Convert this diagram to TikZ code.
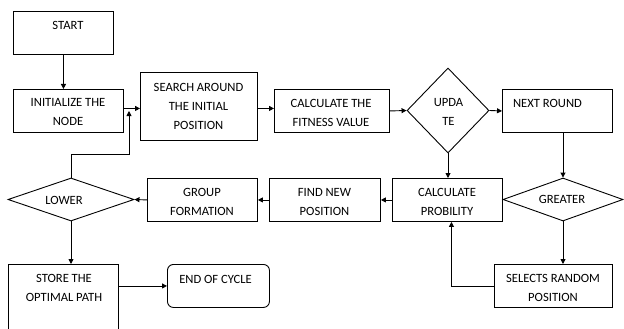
\documentclass[tikz,border=0pt]{standalone}
\usepackage{fontspec}
\setmainfont{Carlito}
\usetikzlibrary{shapes.geometric,arrows.meta}
\begin{document}
\begin{tikzpicture}[x=1pt,y=-1pt,
  box/.style={draw,line width=0.9pt,inner sep=0pt,anchor=north west},
  dia/.style={draw,line width=0.9pt,diamond,inner sep=0pt},
  txt/.style={font=\fontsize{12.6}{19}\selectfont,align=center,inner sep=0pt},
  arr/.style={line width=0.9pt,-{Triangle[length=5pt,width=5pt]}},
  ln/.style={line width=0.9pt}]
\clip (0,0) rectangle (624,329);
\fill[white] (0,0) rectangle (624,329);

% process boxes
\node[box,minimum width=100pt,minimum height=43pt] (start) at (13,11) {};
\node[box,minimum width=110pt,minimum height=43pt] (init) at (13,89) {};
\node[box,minimum width=117pt,minimum height=68pt] (search) at (140,72) {};
\node[box,minimum width=115pt,minimum height=43pt] (fit) at (274,89) {};
\node[box,minimum width=110pt,minimum height=43pt] (next) at (502,89) {};
\node[box,minimum width=110pt,minimum height=43pt] (cprob) at (392,178) {};
\node[box,minimum width=111pt,minimum height=43pt] (find) at (269,178) {};
\node[box,minimum width=110pt,minimum height=43pt] (group) at (147,178) {};
\node[box,minimum width=110pt,minimum height=80pt] (store) at (8,264) {};
\node[box,rounded corners=6pt,minimum width=102pt,minimum height=43pt] (end) at (167,264) {};
\node[box,minimum width=118pt,minimum height=43pt] (selects) at (494,264) {};

% decisions
\node[dia,minimum width=82pt,minimum height=85pt] (update) at (448,110.5) {};
\node[dia,minimum width=120pt,minimum height=43pt] (greater) at (563,199.5) {};
\node[dia,minimum width=126pt,minimum height=43pt] (lower) at (71,199.5) {};

% labels
\node[txt] (tStart) at (68,25) {START};
\node[txt] (tInit) at (68,112.5) {INITIALIZE THE\\NODE};
\node[txt] (tSearch) at (198.5,106) {SEARCH AROUND\\THE INITIAL\\POSITION};
\node[txt] (tFit) at (331,112.5) {CALCULATE THE\\FITNESS VALUE};
\node[txt] (tUpdate) at (448.5,111.5) {UPDA\\TE};
\node[txt] (tNext) at (547.5,103) {NEXT ROUND};
\node[txt] (tCprob) at (447,201.5) {CALCULATE\\PROBILITY};
\node[txt] (tFind) at (324.5,201.5) {FIND NEW\\POSITION};
\node[txt] (tGroup) at (202,201.5) {GROUP\\FORMATION};
\node[txt] (tLower) at (64,200) {LOWER};
\node[txt] (tGreater) at (562,199) {GREATER};
\node[txt] (tStore) at (64,287.5) {STORE THE\\OPTIMAL PATH};
\node[txt] (tEnd) at (215.5,279) {END OF CYCLE};
\node[txt] (tSelects) at (553,287.5) {SELECTS RANDOM\\POSITION};

% connectors
\draw[arr] (start.south) -- (start.south |- init.north);
\draw[arr] ([yshift=2.5pt]init.east) coordinate (p1) -- (p1 -| search.west);
\coordinate (fbturn) at (129,154);
\coordinate (fbend) at (129,111);
\draw[arr] (lower.north) |- (fbturn) -- (fbend);
\draw[arr] ([yshift=-2pt]search.east) coordinate (p2) -- (p2 -| fit.west);
\draw[arr] (fit.east) -- (update.west);
\draw[arr] (update.east) -- (next.west);
\draw[arr] (next.south -| greater.north) -- (greater.north);
\draw[arr] (update.south) -- (update.south |- cprob.north);
\draw[arr] (cprob.west) -- (find.east);
\draw[arr] (find.west) -- (group.east);
\draw[arr] (group.west) -- (lower.east);
\draw[arr] (lower.south) -- (lower.south |- store.north);
\draw[arr] (end.west -| store.east) -- (end.west);
\draw[arr] (greater.south) -- (greater.south |- selects.north);
\draw[arr] (selects.west) -| ([xshift=4pt]cprob.south);
\end{tikzpicture}
\end{document}
